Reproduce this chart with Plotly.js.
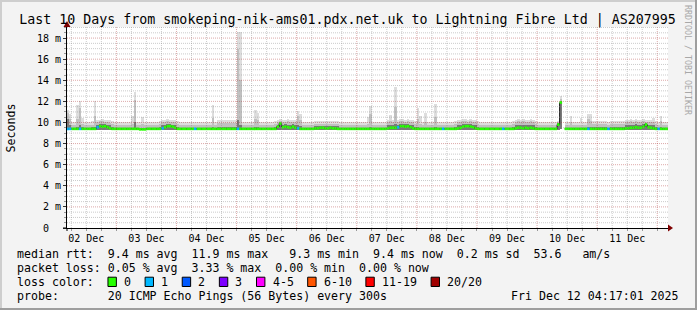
<!DOCTYPE html>
<html>
<head>
<meta charset="utf-8">
<script src="https://cdn.plot.ly/plotly-3.0.1.min.js"></script>
<style>
html,body{margin:0;padding:0;background:#f3f3f3;overflow:hidden}
#chart{width:697px;height:310px}
</style>
</head>
<body>
<div id="chart"></div>
<script>
// ---------------- data (hourly bins, first bin = 2025-12-02 04:00, rows = 24 h) ----------------
const BIN_START = Date.UTC(2025, 11, 2, 4, 0, 0);
const BIN_HOURS = 1;
const RANGE_START = '2025-12-02 04:17:01';
const RANGE_END = '2025-12-12 04:17:01';

const dayNoon = ['2025-12-02 12:00:00','2025-12-03 12:00:00','2025-12-04 12:00:00','2025-12-05 12:00:00','2025-12-06 12:00:00',
                 '2025-12-07 12:00:00','2025-12-08 12:00:00','2025-12-09 12:00:00','2025-12-10 12:00:00','2025-12-11 12:00:00'];
const dayLabels = ['02 Dec','03 Dec','04 Dec','05 Dec','06 Dec','07 Dec','08 Dec','09 Dec','10 Dec','11 Dec'];
const yTickVals = [0,2,4,6,8,10,12,14,16,18];
const yTickText = ['0\u00a0\u00a0','2 m','4 m','6 m','8 m','10 m','12 m','14 m','16 m','18 m'];

// lowest ping (ms)
const pingMin = [
9.3,9.3,9.3,9.3,9.3,9.3,9.3,9.3,9.3,9.3,9.3,9.3,9.3,9.3,9.3,9.3,9.3,9.3,9.3,9.3,9.3,9.3,9.3,9.3,
9.3,9.3,9.3,9.3,9.3,9.3,9.3,9.3,9.3,9.3,9.3,9.3,9.3,9.3,9.3,9.3,9.3,9.3,9.3,9.3,9.3,9.3,9.3,9.3,
9.3,9.3,9.3,9.3,9.3,9.3,9.3,9.3,9.3,9.3,9.3,9.3,9.3,9.3,9.3,9.3,9.3,9.3,9.3,9.3,9.3,9.3,9.3,9.3,
9.3,9.3,9.3,9.3,9.3,9.3,9.3,9.3,9.3,9.3,9.3,9.3,9.3,9.3,9.3,9.3,9.3,9.3,9.3,9.3,9.3,9.3,9.3,9.3,
9.3,9.3,9.3,9.3,9.3,9.3,9.3,9.3,9.3,9.3,9.3,9.3,9.3,9.3,9.3,9.3,9.3,9.3,9.3,9.3,9.3,9.3,9.3,9.3,
9.3,9.3,9.3,9.3,9.3,9.3,9.3,9.3,9.3,9.3,9.3,9.3,9.3,9.3,9.3,9.3,9.3,9.3,9.3,9.3,9.3,9.3,9.3,9.3,
9.3,9.3,9.3,9.3,9.3,9.3,9.3,9.3,9.3,9.3,9.3,9.3,9.3,9.3,9.3,9.3,9.3,9.3,9.3,9.3,9.3,9.3,9.3,9.3,
9.3,9.3,9.3,9.3,9.3,9.3,9.3,9.3,9.3,9.3,9.3,9.3,9.3,9.3,9.3,9.3,9.3,9.3,9.3,9.3,9.3,9.3,9.3,9.3,
9.3,9.3,9.3,9.3,9.3,9.4,null,9.3,9.3,9.3,9.3,9.3,9.3,9.3,9.3,9.3,9.3,9.3,9.3,9.3,9.3,9.3,9.3,9.3,
9.3,9.3,9.3,9.3,9.3,9.3,9.3,9.3,9.3,9.3,9.3,9.3,9.3,9.3,9.3,9.3,9.3,9.3,9.3,9.3,9.3,9.3,9.3,9.3,
9.3];

// highest ping (outer smoke)
const pingMax = [
11.2,10.8,10.0,10.0,11.7,12.0,10.4,10.0,10.0,10.0,10.1,12.0,10.25,10.25,10.3,10.25,10.2,10.2,10.1,10.0,10.0,10.0,10.0,10.0,
10.0,10.0,10.6,12.9,10.0,10.0,10.5,10.0,10.0,10.0,10.0,10.0,10.0,10.1,10.25,10.25,10.3,10.25,10.25,10.2,10.1,10.0,10.0,10.0,
10.0,10.0,10.0,10.0,10.0,10.0,10.0,10.0,10.0,10.0,11.7,10.0,10.2,10.2,10.2,10.2,10.2,10.2,10.2,10.2,18.6,18.6,10.0,10.0,
10.0,10.0,10.0,11.2,10.9,10.0,10.0,10.0,10.0,10.0,10.0,10.1,10.25,10.3,10.25,10.25,10.3,10.25,10.25,10.2,11.1,10.8,10.0,10.0,
10.0,10.0,10.0,10.1,10.1,10.1,10.1,10.1,10.1,10.1,10.1,10.1,10.1,10.0,10.0,10.0,10.0,10.0,10.0,10.0,10.0,10.0,10.0,10.0,
10.5,11.6,10.0,10.0,10.0,10.0,10.0,10.0,10.25,10.7,10.25,13.4,10.25,10.3,10.3,10.25,10.3,10.25,10.2,10.1,11.4,10.6,10.0,10.9,
10.0,10.0,10.0,11.8,10.0,10.0,10.0,10.0,10.0,10.0,10.0,10.1,10.2,10.25,10.3,10.3,10.25,10.3,10.25,10.2,10.1,10.0,10.0,10.0,
10.0,10.0,10.0,10.0,10.0,10.0,10.0,10.0,10.0,10.0,10.1,10.25,10.3,10.25,10.3,10.25,10.25,10.3,10.2,10.1,10.0,10.0,10.0,10.0,
10.0,10.0,10.0,10.0,10.1,12.5,null,10.0,10.0,10.6,10.0,10.0,10.0,10.4,10.0,10.0,10.8,10.8,10.1,10.1,10.1,10.1,10.1,10.1,
10.0,10.1,10.1,10.1,10.1,10.1,10.1,10.2,10.25,10.3,10.25,10.3,10.25,10.25,10.3,10.25,10.25,10.2,10.4,10.1,10.0,10.6,10.0,10.0,
10.0];

// upper edge of the middle smoke layer
const pingMid = [
10.9,10.3,9.75,9.75,10.3,11.4,9.9,9.75,9.75,9.75,9.8,10.6,10.05,10.1,10.1,10.05,10.0,9.95,9.85,9.75,9.75,9.75,9.75,9.75,
9.75,9.75,9.9,12.1,9.75,9.75,9.9,9.75,9.75,9.75,9.75,9.75,9.75,9.85,10.05,10.05,10.1,10.05,10.05,10.0,9.85,9.75,9.75,9.75,
9.75,9.75,9.75,9.75,9.75,9.75,9.75,9.75,9.75,9.75,10.4,9.75,9.95,9.95,9.95,9.95,9.95,9.95,9.95,9.95,17.0,14.0,9.75,9.75,
9.75,9.75,9.75,10.3,10.2,9.75,9.75,9.75,9.75,9.75,9.75,9.85,10.05,10.1,10.05,10.05,10.1,10.05,10.05,10.0,10.6,10.2,9.75,9.75,
9.75,9.75,9.75,9.9,9.9,9.9,9.9,9.9,9.9,9.9,9.9,9.9,9.9,9.75,9.75,9.75,9.75,9.75,9.75,9.75,9.75,9.75,9.75,9.75,
9.9,10.8,9.75,9.75,9.75,9.75,9.75,9.75,10.05,10.1,10.05,11.5,10.05,10.1,10.1,10.05,10.1,10.05,10.0,9.85,10.3,9.9,9.75,10.0,
9.75,9.75,9.75,10.5,9.75,9.75,9.75,9.75,9.75,9.75,9.75,9.85,10.0,10.05,10.1,10.1,10.05,10.1,10.05,10.0,9.85,9.75,9.75,9.75,
9.75,9.75,9.75,9.75,9.75,9.75,9.75,9.75,9.75,9.75,9.85,10.05,10.1,10.05,10.1,10.05,10.05,10.1,10.0,9.85,9.75,9.75,9.75,9.75,
9.75,9.75,9.75,9.75,10.0,12.2,null,9.75,9.75,10.0,9.75,9.75,9.75,9.8,9.75,9.75,10.3,10.1,9.85,9.85,9.85,9.85,9.85,9.85,
9.75,9.85,9.85,9.85,9.85,9.85,9.85,10.0,10.05,10.1,10.05,10.1,10.05,10.05,10.1,10.05,10.05,10.0,10.05,9.85,9.75,10.1,9.75,9.75,
9.75];

// upper edge of the dark core of the smoke
const pingCore = [
10.3,9.8,9.5,9.5,9.6,9.8,9.55,9.5,9.5,9.5,9.55,9.6,9.8,9.85,9.85,9.85,9.8,9.75,9.6,9.5,9.5,9.5,9.5,9.5,
9.5,9.5,9.5,10.0,9.5,9.5,9.5,9.5,9.5,9.5,9.5,9.5,9.5,9.6,9.8,9.8,9.85,9.85,9.8,9.75,9.6,9.5,9.5,9.5,
9.5,9.5,9.5,9.5,9.5,9.5,9.5,9.5,9.5,9.5,9.6,9.5,9.55,9.55,9.55,9.55,9.55,9.55,9.55,9.55,10.2,9.8,9.5,9.5,
9.5,9.5,9.5,9.6,9.6,9.5,9.5,9.5,9.5,9.5,9.5,9.6,9.8,9.95,9.8,9.85,9.8,9.8,9.85,9.75,9.8,9.7,9.5,9.5,
9.5,9.5,9.5,9.65,9.65,9.65,9.65,9.65,9.65,9.65,9.65,9.65,9.65,9.5,9.5,9.5,9.5,9.5,9.5,9.5,9.5,9.5,9.5,9.5,
9.5,9.6,9.5,9.5,9.5,9.5,9.5,9.5,9.75,9.8,9.8,9.9,9.8,9.85,9.85,9.85,9.85,9.8,9.75,9.6,9.6,9.5,9.5,9.5,
9.5,9.5,9.5,9.6,9.5,9.5,9.5,9.5,9.5,9.5,9.5,9.6,9.75,9.8,9.85,9.85,9.85,9.85,9.8,9.75,9.6,9.5,9.5,9.5,
9.5,9.5,9.5,9.5,9.5,9.5,9.5,9.5,9.5,9.5,9.6,9.75,9.8,9.8,9.8,9.8,9.8,9.8,9.75,9.6,9.5,9.5,9.5,9.5,
9.5,9.5,9.5,9.5,9.95,11.95,null,9.5,9.5,9.5,9.5,9.5,9.5,9.5,9.5,9.5,9.6,9.55,9.6,9.6,9.6,9.6,9.6,9.6,
9.5,9.6,9.6,9.6,9.6,9.6,9.6,9.75,9.8,9.8,9.8,9.85,9.8,9.8,9.85,9.95,9.8,9.75,9.8,9.6,9.5,9.55,9.5,9.5,
9.5];

// median rtt (ms)
const medianRtt = [
9.4,9.4,9.4,9.4,9.4,9.4,9.4,9.4,9.4,9.4,9.4,9.4,9.55,9.65,9.6,9.65,9.55,9.45,9.4,9.4,9.4,9.4,9.4,9.4,
9.4,9.4,9.4,9.4,9.4,9.35,9.35,9.35,9.4,9.4,9.4,9.4,9.4,9.4,9.45,9.55,9.65,9.65,9.6,9.5,9.4,9.4,9.4,9.4,
9.4,9.4,9.4,9.4,9.4,9.4,9.4,9.4,9.4,9.4,9.4,9.4,9.4,9.4,9.4,9.4,9.4,9.4,9.4,9.4,9.4,9.4,9.4,9.4,
9.4,9.4,9.4,9.4,9.4,9.4,9.4,9.4,9.4,9.4,9.4,9.4,9.6,9.9,9.55,9.6,9.55,9.5,9.6,9.5,9.45,9.4,9.4,9.4,
9.4,9.4,9.4,9.45,9.45,9.5,9.5,9.45,9.45,9.5,9.45,9.45,9.4,9.4,9.4,9.4,9.4,9.4,9.4,9.4,9.4,9.4,9.4,9.4,
9.4,9.4,9.4,9.4,9.4,9.4,9.4,9.4,9.45,9.5,9.5,9.5,9.55,9.65,9.65,9.6,9.65,9.55,9.45,9.4,9.4,9.4,9.4,9.4,
9.4,9.4,9.4,9.4,9.4,9.4,9.4,9.4,9.4,9.4,9.4,9.4,9.45,9.5,9.6,9.65,9.65,9.6,9.55,9.45,9.4,9.4,9.4,9.4,
9.4,9.4,9.4,9.4,9.4,9.4,9.4,9.4,9.4,9.4,9.4,9.45,9.5,9.5,9.45,9.5,9.45,9.5,9.45,9.4,9.4,9.4,9.4,9.4,
9.4,9.4,9.4,9.4,9.8,11.9,null,9.4,9.4,9.4,9.4,9.4,9.4,9.4,9.4,9.4,9.4,9.4,9.4,9.4,9.4,9.4,9.4,9.4,
9.4,9.4,9.4,9.4,9.4,9.4,9.4,9.45,9.45,9.5,9.5,9.55,9.5,9.5,9.6,9.8,9.55,9.5,9.45,9.4,9.4,9.4,9.4,9.4,
9.4];

// lost pings out of 20
const lostPings = [
1,1,0,0,0,1,0,0,0,0,0,0,1,0,0,0,0,0,0,0,0,0,0,0,
0,0,0,0,0,0,0,0,0,0,0,0,0,0,1,0,0,0,0,0,0,0,0,0,
0,0,0,1,0,0,0,0,0,0,0,0,0,0,0,0,0,0,0,0,1,0,0,0,
0,0,0,0,0,0,0,0,0,0,0,0,0,0,0,0,0,0,0,0,1,0,0,0,
0,0,0,0,0,0,0,0,0,0,0,0,0,0,0,0,0,0,0,0,0,0,0,0,
0,0,0,0,0,0,0,0,0,0,0,0,1,0,0,0,0,0,0,0,0,0,0,0,
0,0,0,0,0,0,1,0,0,0,0,0,0,0,0,0,0,0,0,0,0,0,0,0,
0,0,0,0,0,0,1,0,0,0,0,0,0,0,0,0,0,0,0,0,0,0,0,0,
0,0,0,0,0,0,null,0,0,0,0,0,0,0,0,0,1,0,0,0,0,0,0,0,
1,0,0,0,0,0,0,0,0,0,0,0,0,0,0,0,0,0,0,0,1,0,0,0,
0];

const lossLabels = ['0','1','2','3','4-5','6-10','11-19','20/20'];
const lossColors = ['#26ff00','#00b8ff','#0059ff','#7e00ff','#ff00ff','#ff5500','#ff0000','#a00000'];
const lossUpper  = [0,1,2,3,5,10,19,20];

const titleText = 'Last 10 Days from smokeping-nik-ams01.pdx.net.uk to Lightning Fibre Ltd | AS207995';
const legendRtt  = 'median rtt:  9.4 ms avg  11.9 ms max   9.3 ms min  9.4 ms now  0.2 ms sd  53.6   am/s';
const legendLoss = 'packet loss: 0.05 % avg  3.33 % max  0.00 % min  0.00 % now';
const legendColorTitle = 'loss color:';
const legendProbe = 'probe:       20 ICMP Echo Pings (56 Bytes) every 300s';
const legendDate = 'Fri Dec 12 04:17:01 2025';

// ---------------- layout helpers ----------------
const W = 697, H = 310, ML = 67, MR = 29, MT = 27, MB = 82;
const PW = W - ML - MR, PH = H - MT - MB;
const px = x => (x - ML) / PW;
const py = y => (H - MB - y) / PH;
const MONO = 'DejaVu Sans Mono, monospace';
const nb = s => s.replace(/ /g, '\u00a0');
const HOUR = 3600000 * BIN_HOURS;
const iso = ms => new Date(ms).toISOString().slice(0, 19).replace('T', ' ');

const tStart = medianRtt.map((_, k) => iso(BIN_START + k * HOUR));
const tMid = medianRtt.map((_, k) => iso(BIN_START + k * HOUR + HOUR / 2));
const tEndOf = k => iso(BIN_START + (k + 1) * HOUR);

function smokeLayer(top, color) {
  return {
    type: 'bar', x: tMid, base: pingMin,
    y: top.map((v, i) => (v == null || pingMin[i] == null) ? null : v - pingMin[i]),
    width: HOUR, marker: { color: color, line: { width: 0 } },
    hoverinfo: 'skip', showlegend: false
  };
}
function lossIndex(n) {
  for (let i = 0; i < lossUpper.length; i++) if (n <= lossUpper[i]) return i;
  return lossUpper.length - 1;
}

const traces = [
  smokeLayer(pingMax, 'rgba(221,221,221,0.995)'),
  smokeLayer(pingMid, 'rgba(192,192,192,0.995)'),
  smokeLayer(pingCore, 'rgba(120,120,120,0.995)'),
  // thin dark median line (its vertical steps show between the coloured bands)
  { type: 'scatter', mode: 'lines', x: tStart, y: medianRtt, connectgaps: false,
    line: { shape: 'hv', color: '#111', width: 1 }, hoverinfo: 'skip', showlegend: false }
];
// loss-coloured median band: one horizontal segment per bin
lossColors.forEach((col, ci) => {
  const xs = [], ys = [];
  medianRtt.forEach((m, k) => {
    if (m == null || lostPings[k] == null || lossIndex(lostPings[k]) !== ci) return;
    xs.push(tStart[k], tEndOf(k), null);
    ys.push(m, m, null);
  });
  if (xs.length) traces.push({ type: 'scatter', mode: 'lines', x: xs, y: ys, connectgaps: false,
    line: { color: col, width: 2.7 }, hoverinfo: 'skip', showlegend: false });
});

// ---------------- grid (drawn above data, like rrdtool) ----------------
const GRID = 'rgba(140,140,140,0.45)';
const MGRID = 'rgba(170,40,40,0.40)';
const shapes = [];
const re = Date.UTC(2025, 11, 12, 4, 17, 1);
for (let t = Date.UTC(2025, 11, 2, 6); t < re; t += 6 * 3600000) {
  const major = new Date(t).getUTCHours() === 0;
  shapes.push({ type: 'line', layer: 'above', xref: 'x', yref: 'paper', x0: iso(t), x1: iso(t), y0: 0, y1: 1,
    line: { color: major ? MGRID : GRID, width: 1, dash: '1px,1px' } });
}
for (let i = 1; i <= 38; i++) {
  const v = i * 0.5;
  const major = (i % 4 === 0);
  shapes.push({ type: 'line', layer: 'above', xref: 'paper', yref: 'y', x0: 0, x1: 1, y0: v, y1: v,
    line: { color: major ? MGRID : GRID, width: 1, dash: '1px,1px' } });
}
// axis extensions and arrows
shapes.push({ type: 'line', layer: 'above', xref: 'paper', yref: 'paper', xsizemode: 'pixel', xanchor: 0,
  x0: -4, x1: 0, y0: 0, y1: 0, line: { color: '#000', width: 1 } });
shapes.push({ type: 'line', layer: 'above', xref: 'paper', yref: 'paper', ysizemode: 'pixel', yanchor: 0,
  x0: 0, x1: 0, y0: -3, y1: 0, line: { color: '#000', width: 1 } });
shapes.push({ type: 'path', layer: 'above', xref: 'paper', yref: 'paper', xsizemode: 'pixel', ysizemode: 'pixel',
  xanchor: 1, yanchor: 0, path: 'M0,-3.5 L5,0 L0,3.5 Z', fillcolor: '#7f0000', line: { width: 0 } });
shapes.push({ type: 'path', layer: 'above', xref: 'paper', yref: 'paper', xsizemode: 'pixel', ysizemode: 'pixel',
  xanchor: 0, yanchor: 1, path: 'M-3.5,0 L0,6 L3.5,0 Z', fillcolor: '#7f0000', line: { width: 0 } });
// 3D frame
const frame = (x0, y0, x1, y1, c) => ({ type: 'rect', layer: 'above', xref: 'paper', yref: 'paper',
  x0: px(x0), x1: px(x1), y0: py(y0), y1: py(y1), fillcolor: c, line: { width: 0 } });
shapes.push(frame(0, 0, W, 2, '#cecece'));
shapes.push(frame(0, 0, 2, H, '#cecece'));
shapes.push(frame(0, H - 2, W, H, '#9e9e9e'));
shapes.push(frame(W - 2, 0, W, H, '#9e9e9e'));

// ---------------- legend text ----------------
const CW = 7.02, LX = 16;
const txt = (s, x, y, opts) => Object.assign({ text: nb(s), xref: 'paper', yref: 'paper', x: px(x), y: py(y),
  xanchor: 'left', yanchor: 'middle', showarrow: false, borderpad: 0,
  font: { family: MONO, size: 11.6, color: '#000' } }, opts || {});
const annotations = [
  txt(legendRtt, LX, 254),
  txt(legendLoss, LX, 268),
  txt(legendColorTitle, LX, 282),
  txt(legendProbe, LX, 296),
  txt(legendDate, 680, 296, { xanchor: 'right' }),
  txt('Seconds', 10, 128.5, { xanchor: 'center', textangle: -90 }),
  txt('RRDTOOL / TOBI OETIKER', 688, 60, { xanchor: 'center', textangle: 90,
    font: { family: MONO, size: 8.3, color: '#a8a8a8' } })
];
let cur = 13.1;
lossLabels.forEach((lab, i) => {
  const bx = LX + CW * cur;
  shapes.push({ type: 'rect', layer: 'above', xref: 'paper', yref: 'paper',
    x0: px(bx), x1: px(bx + 8.4), y0: py(286.5), y1: py(277.2),
    fillcolor: lossColors[i], line: { color: '#000', width: 1 } });
  annotations.push(txt(lab, LX + CW * (cur + 2.15), 282));
  cur += 2.15 + lab.length + 2.14;
});

const tickFont = { family: MONO, size: 10, color: '#000' };
const layout = {
  width: W, height: H,
  margin: { l: ML, r: MR, t: MT, b: MB, pad: 0 },
  paper_bgcolor: '#f3f3f3', plot_bgcolor: '#ffffff',
  barmode: 'overlay', bargap: 0, showlegend: false,
  title: { text: titleText, font: { family: MONO, size: 13.3, color: '#000' },
    xref: 'container', x: 347.5 / W, xanchor: 'center', yref: 'container', y: 1 - 19 / H, yanchor: 'middle' },
  xaxis: {
    type: 'date', range: [RANGE_START, RANGE_END], tickmode: 'array', tickvals: dayNoon, ticktext: dayLabels,
    ticks: '', showgrid: false, zeroline: false, showline: true, linecolor: '#000', linewidth: 1,
    tickfont: tickFont, ticklabelstandoff: 1, fixedrange: true,
    minor: { tickmode: 'linear', tick0: '2025-12-02 00:00:00', dtick: 6 * 3600000, ticks: 'outside',
      ticklen: 2, tickcolor: '#999', showgrid: false }
  },
  yaxis: {
    range: [0, 19.05], tickmode: 'array', tickvals: yTickVals, ticktext: yTickText,
    ticks: 'outside', ticklen: 3, tickcolor: '#333', showgrid: false, zeroline: false,
    showline: true, linecolor: '#000', linewidth: 1, tickfont: tickFont, fixedrange: true,
    minor: { tickmode: 'linear', tick0: 0, dtick: 0.5, ticks: 'outside', ticklen: 2, tickcolor: '#999', showgrid: false }
  },
  shapes: shapes,
  annotations: annotations
};

Plotly.newPlot('chart', traces, layout, { displayModeBar: false, responsive: false });
</script>
</body>
</html>
